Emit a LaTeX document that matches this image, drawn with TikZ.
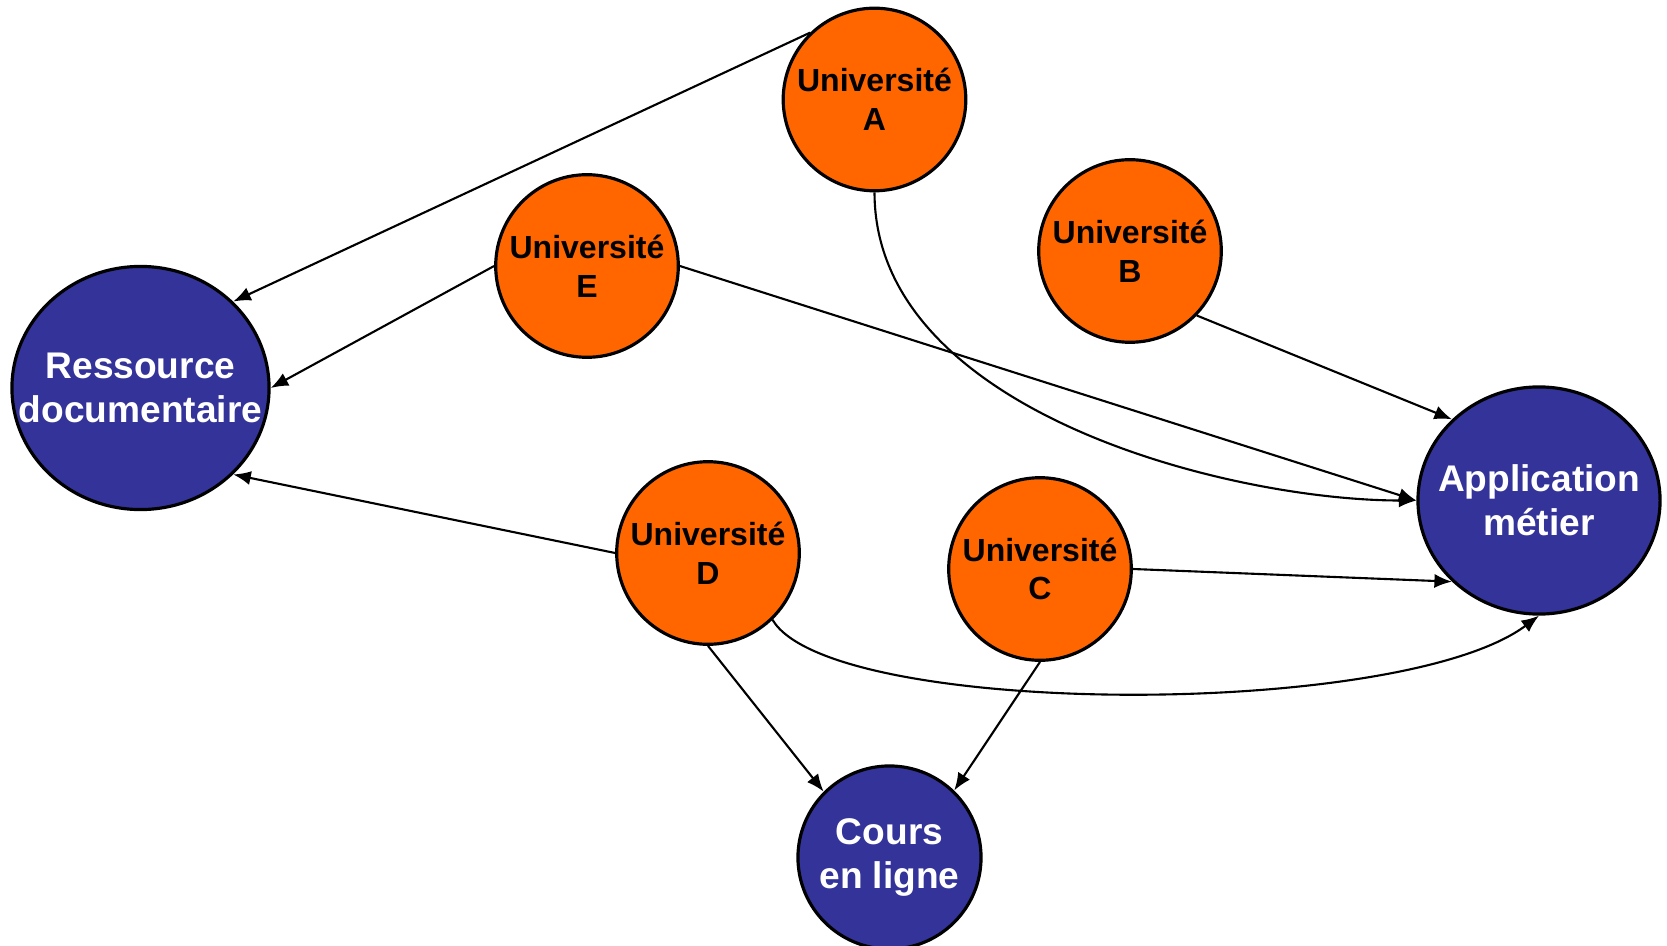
\documentclass[tikz,border=0pt]{standalone}
\usepackage{fontspec}
\setmainfont{Liberation Sans}
\usetikzlibrary{shapes.geometric,arrows.meta}

\definecolor{orangeU}{HTML}{FF6600}
\definecolor{bleuR}{HTML}{333399}

\tikzstyle{univ}=[draw, line width=0.9pt, fill=orangeU, circle, inner sep=-6pt, minimum size=1.825cm, align=center, font=\fontsize{9.1}{11}\selectfont\bfseries]
\tikzstyle{ressource}=[draw, line width=0.9pt, fill=bleuR, ellipse, inner sep=-12pt, text=white, align=center, font=\fontsize{10.55}{12.5}\selectfont\bfseries]
\tikzstyle{fleche}=[-{Latex[length=5pt,width=4pt]}, line width=0.6pt]

\begin{document}
\begin{tikzpicture}[x=0.01cm, y=-0.01cm]

\useasboundingbox (0,0) rectangle (1667,946);

\node[univ] (uA) at (874.5,99.5) {Universit\'e\\A};
\node[univ] (uB) at (1130,251) {Universit\'e\\B};
\node[univ] (uE) at (587,266) {Universit\'e\\E};
\node[univ] (uD) at (708,553) {Universit\'e\\D};
\node[univ] (uC) at (1040,569) {Universit\'e\\C};

\node[ressource, minimum width=2.57cm, minimum height=2.43cm] (doc) at (140.5,388) {Ressource\\documentaire};
\node[ressource, minimum width=2.42cm, minimum height=2.27cm] (appli) at (1539,500.5) {Application\\m\'etier};
\node[ressource, minimum width=1.83cm, minimum height=1.83cm] (cours) at (889.5,857.5) {Cours\\en ligne};

\draw[fleche] (uA.134) -- (doc.43);
\draw[fleche] (uE.180) -- (doc.0);
\draw[fleche] (uD.180) -- (doc.-43);

\draw[fleche] (uA.south) .. controls +(0,220) and +(-185,0) .. (appli.west);
\draw[fleche] (uE.0) -- (appli.west);
\draw[fleche] (uB.-44) -- (appli.137);
\draw[fleche] (uC.0) -- (appli.-137);
\draw[fleche] (uD.-46) .. controls +(58,98) and +(-139,104) .. (appli.south);

\draw[fleche] (uD.south) -- (cours.135);
\draw[fleche] (uC.south) -- (cours.46);

\end{tikzpicture}
\end{document}
